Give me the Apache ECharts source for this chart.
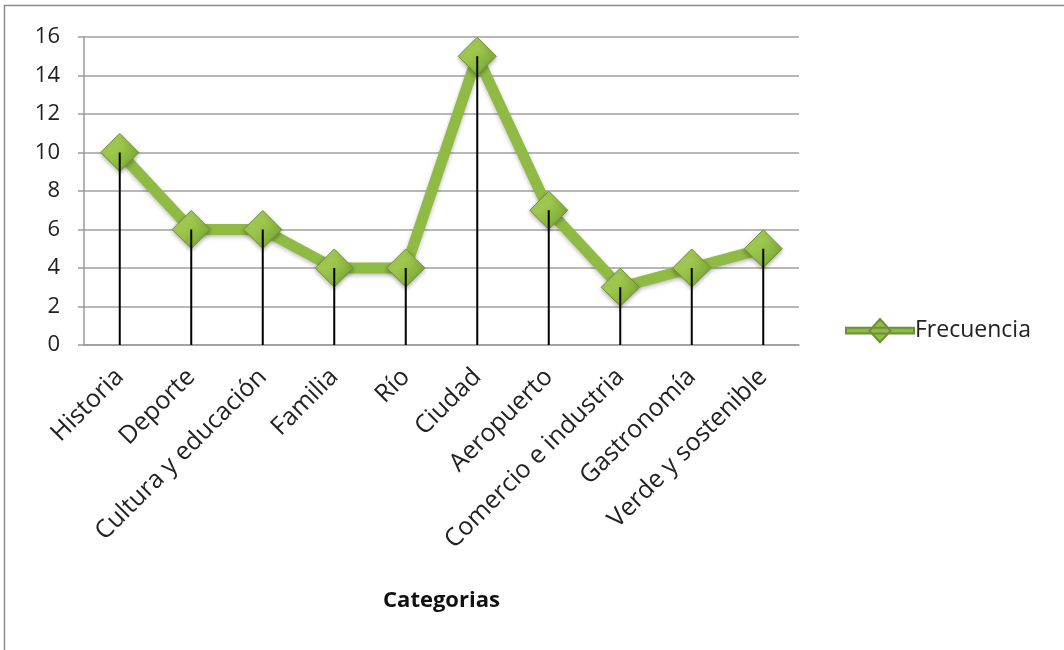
<!DOCTYPE html>
<html><head><meta charset="utf-8">
<script src="https://cdn.jsdelivr.net/npm/echarts@6/dist/echarts.min.js"></script>
<style>html,body{margin:0;padding:0;background:#fff}#c{width:1064px;height:650px}</style>
</head><body><div id="c"></div>
<script>
const categories = ['Historia','Deporte','Cultura y educación','Familia','Río','Ciudad','Aeropuerto','Comercio e industria','Gastronomía','Verde y sostenible'];
const frecuencia = [10,6,6,4,4,15,7,3,4,5];
const yTicks = {min:0, max:16, interval:2};
const font = '"Open Sans", sans-serif';
const chart = echarts.init(document.getElementById('c'));
const markerFill = new echarts.graphic.LinearGradient(0,0,1,1,[
  {offset:0,color:'#b5d96a'},{offset:0.5,color:'#97c246'},{offset:1,color:'#6f9a2e'}]);
chart.setOption({
  animation:false,
  graphic:[{type:'rect',shape:{x:4.5,y:5.5,width:1100,height:700},style:{fill:'none',stroke:'#8c8c8c',lineWidth:1.5},silent:true}],
  grid:{left:84,right:265,top:37,bottom:305},
  legend:{
    left:840, top:313, itemWidth:68, itemHeight:28, itemGap:0,
    textStyle:{fontFamily:font,fontSize:23,color:'#222',padding:[0,0,0,-4]},
    data:[{name:'Frecuencia',icon:'path://M0,12 L70,12 L70,18 L0,18 Z M35,3 L46,15 L35,27 L24,15 Z'}],
    itemStyle:{color:'#8fba44'}
  },
  xAxis:{
    type:'category', data:categories, boundaryGap:true,
    name:'Categorias', nameLocation:'middle', nameGap:245,
    nameTextStyle:{fontFamily:font,fontSize:22,fontWeight:'bold',color:'#111'},
    axisLine:{lineStyle:{color:'#9a9a9a',width:1.5}},
    axisTick:{show:false},
    axisLabel:{rotate:45,interval:0,fontFamily:font,fontSize:25,color:'#222',margin:28}
  },
  yAxis:{
    type:'value', min:yTicks.min, max:yTicks.max, interval:yTicks.interval,
    axisLine:{show:true,lineStyle:{color:'#9a9a9a',width:1.5}},
    axisTick:{show:true,length:6,lineStyle:{color:'#9a9a9a',width:1.5}},
    splitLine:{lineStyle:{color:'#a0a0a0',width:1.5}},
    axisLabel:{fontFamily:font,fontSize:22,color:'#222',margin:24}
  },
  series:[
    {type:'bar',name:'drop',data:frecuencia,barWidth:2,barGap:'-100%',
     itemStyle:{color:'#000'},z:3,silent:true,legendHoverLink:false},
    {type:'line',name:'Frecuencia',data:frecuencia,z:2,
     lineStyle:{color:'#8fba44',width:11,shadowColor:'rgba(0,0,0,0.25)',shadowBlur:4,shadowOffsetY:2},
     symbol:'diamond',symbolSize:[38,38],
     itemStyle:{color:markerFill,borderColor:'#6e8f35',borderWidth:1,shadowColor:'rgba(0,0,0,0.3)',shadowBlur:4,shadowOffsetY:2}
    }
  ]
});
</script></body></html>
